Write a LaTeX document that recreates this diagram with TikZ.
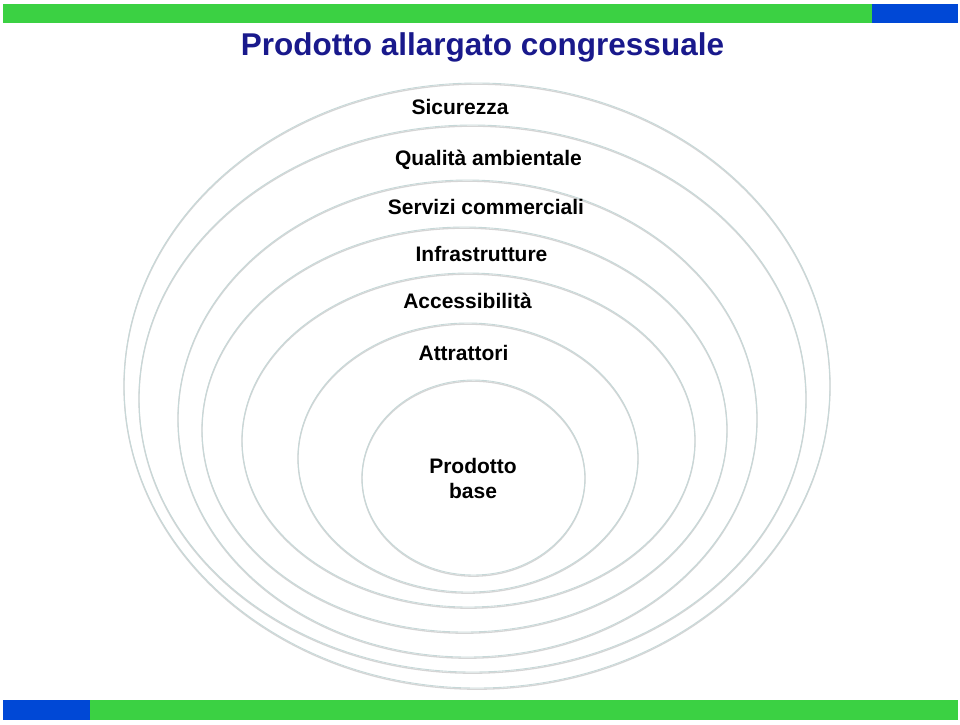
\documentclass[tikz,border=0pt]{standalone}
\usepackage{fontspec}
\setmainfont{Liberation Sans}
\definecolor{bargreen}{RGB}{59,209,67}
\definecolor{barblue}{RGB}{0,72,214}
\definecolor{titleblue}{RGB}{25,25,140}
\definecolor{ringline}{RGB}{198,216,216}
\tikzset{
  ring/.style={draw=ringline, line width=0.9pt},
  ringshadow/.style={draw=gray!60, line width=1.3pt, opacity=0.55},
  ringlabel/.style={anchor=base, font=\fontsize{21}{25}\selectfont\bfseries},
}
\begin{document}
\begin{tikzpicture}[x=1pt,y=-1pt]
  \useasboundingbox (0,0) rectangle (960,724);

  % bars
  \fill[bargreen] (3,4) rectangle (872,23);
  \fill[barblue] (872,4) rectangle (958,23);
  \fill[barblue] (3,700) rectangle (90,720);
  \fill[bargreen] (90,700) rectangle (958,720);

  \node[anchor=base, text=titleblue, font=\fontsize{31.5}{36}\selectfont\bfseries]
    (title) at (482.5,55) {Prodotto allargato congressuale};

  % rings, outer to inner: cx/cy/rx/ry
  \foreach \cx/\cy/\rx/\ry in {477/385.5/353/302.5, 472.5/398.5/333.5/273.5,
      467.5/418.5/289.5/238.5, 464.5/429.5/262.5/202.5, 468.5/440/226.5/167,
      468/457.5/170/134.5, 473.5/477.5/111.5/97.5} {
    \draw[ringshadow] (\cx,\cy+1.2) ellipse [x radius=\rx, y radius=\ry];
    \draw[ring] (\cx,\cy) ellipse [x radius=\rx, y radius=\ry];
  }

  \node[ringlabel] (sicurezza) at (460,114) {Sicurezza};
  \node[ringlabel] (qualita) at (488.5,165) {Qualità ambientale};
  \node[ringlabel] (servizi) at (486,214) {Servizi commerciali};
  \node[ringlabel] (infra) at (481.5,261) {Infrastrutture};
  \node[ringlabel] (access) at (467.5,308) {Accessibilità};
  \node[ringlabel] (attrattori) at (463.5,360) {Attrattori};
  \node[ringlabel, align=center] (base) at (473,498) {Prodotto\\base};
\end{tikzpicture}
\end{document}
